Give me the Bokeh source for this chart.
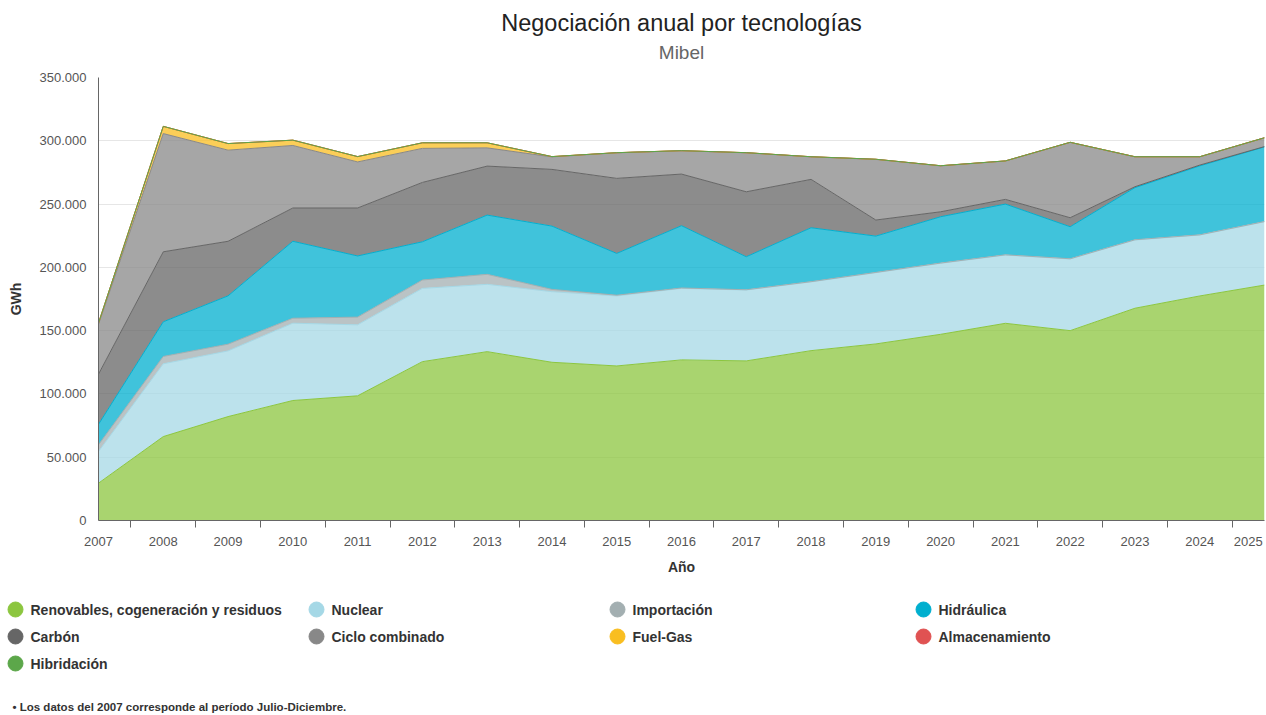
from bokeh.plotting import figure
from bokeh.models import ColumnDataSource, Range1d, FixedTicker
from bokeh.layouts import column
from bokeh.embed import file_html
from bokeh.resources import INLINE
from bokeh.core.properties import value

FONT = "Liberation Sans"

# ---------------- data (GWh) ----------------
years = [2007, 2008, 2009, 2010, 2011, 2012, 2013, 2014, 2015, 2016,
         2017, 2018, 2019, 2020, 2021, 2022, 2023, 2024, 2025]
renovables = [29500, 66300, 82100, 94800, 98500, 125500, 133400, 125000, 122100, 126900,
              126100, 134200, 139500, 147100, 155800, 150000, 167700, 177400, 186000]
nuclear = [25000, 57500, 51900, 61100, 56100, 57900, 53200, 55800, 55300, 56500,
           56000, 54300, 56300, 56100, 53900, 56600, 53900, 48100, 50000]
importacion = [5300, 5800, 5300, 3900, 6100, 6600, 7900, 1800, 600, 300,
               200, 200, 200, 200, 200, 200, 200, 200, 200]
hidraulica = [16200, 27400, 38200, 60800, 48300, 30200, 46800, 50000, 33000, 49200,
              26100, 42600, 28700, 36600, 40100, 25300, 41200, 54500, 59000]
carbon = [39600, 55300, 43100, 26300, 37900, 46900, 38700, 44800, 59300, 40800,
          51300, 38200, 12700, 3900, 3700, 7100, 700, 600, 200]
ciclo_combinado = [39400, 93400, 72000, 49400, 36400, 26900, 14400, 9900, 20200, 18400,
                   30800, 17800, 47900, 36300, 30300, 59500, 23600, 6500, 6900]
fuel_gas = [1000, 5700, 5200, 4200, 4200, 4400, 4000, 200, 100, 100,
            100, 100, 100, 100, 100, 100, 100, 100, 100]
almacenamiento = [0, 0, 0, 0, 0, 0, 0, 0, 0, 0, 0, 0, 0, 0, 0, 0, 0, 0, 0]
hibridacion = [0, 0, 0, 0, 0, 0, 0, 0, 0, 0, 0, 0, 0, 0, 0, 0, 0, 0, 0]

series_names = ["Renovables, cogeneración y residuos", "Nuclear", "Importación", "Hidráulica",
                "Carbón", "Ciclo combinado", "Fuel-Gas", "Almacenamiento", "Hibridación"]
series_keys = ["ren", "nuc", "imp", "hid", "car", "cc", "fg", "alm", "hib"]
series_colors = ["#8CC63F", "#A5D8E6", "#A3AFB1", "#00AFCF", "#666666",
                 "#888888", "#F9BE20", "#E05252", "#5CA74A"]

y_ticks = [0, 50000, 100000, 150000, 200000, 250000, 300000, 350000]
y_tick_labels = ["0", "50.000", "100.000", "150.000", "200.000", "250.000", "300.000", "350.000"]

title_text = "Negociación anual por tecnologías"
subtitle_text = "Mibel"
x_title = "Año"
y_title = "GWh"
footnote = "• Los datos del 2007 corresponde al período Julio-Diciembre."

W = 1266


def bare_fig(h):
    f = figure(width=W, height=h, x_range=Range1d(0, W), y_range=Range1d(h, 0),
               output_backend="svg", toolbar_location=None, min_border=0)
    f.axis.visible = False
    f.grid.visible = False
    f.outline_line_color = None
    try:
        f.frame_align = False
    except Exception:
        pass
    return f


# ---------------- header ----------------
header = bare_fig(66)
header.text(x=[681], y=[22], text=[title_text], text_font=value(FONT), text_font_size="23.5px",
            text_color="#222222", text_align="center", text_baseline="middle")
header.text(x=[681], y=[52], text=[subtitle_text], text_font=value(FONT), text_font_size="19px",
            text_color="#666666", text_align="center", text_baseline="middle")

# ---------------- main chart ----------------
data = dict(x=years)
for k, v in zip(series_keys, [renovables, nuclear, importacion, hidraulica, carbon,
                              ciclo_combinado, fuel_gas, almacenamiento, hibridacion]):
    data[k] = v
src = ColumnDataSource(data)

p = figure(width=W, height=524, output_backend="svg", toolbar_location=None,
           x_range=Range1d(years[0], years[-1]), y_range=Range1d(0, 350000),
           min_border_left=98, min_border_right=2, min_border_top=11, min_border_bottom=70,
           title=None)
try:
    p.frame_align = False
except Exception:
    pass
p.outline_line_color = None
p.background_fill_color = "white"

p.varea_stack(stackers=series_keys, x="x", color=series_colors, fill_alpha=0.75, source=src)
p.vline_stack(stackers=series_keys, x="x", color=series_colors, line_width=1, source=src)

# x axis: labels on the categories (last one nudged inside like the original), ticks between
label_pos = years[:-1] + [years[-1] - 0.25]
p.xaxis.ticker = FixedTicker(ticks=label_pos, minor_ticks=[y + 0.5 for y in years[:-1]])
p.xaxis.major_label_overrides = {pos: str(yr) for pos, yr in zip(label_pos, years)}
p.xaxis.major_tick_out = 0
p.xaxis.major_tick_in = 0
p.xaxis.minor_tick_out = 7
p.xaxis.minor_tick_in = 0
p.xaxis.minor_tick_line_color = "#666666"
p.xaxis.axis_line_color = "#666666"
p.xaxis.major_label_standoff = 9
p.xaxis.major_label_text_font = FONT
p.xaxis.major_label_text_font_size = "13px"
p.xaxis.major_label_text_color = "#555555"
p.xaxis.axis_label = x_title
p.xaxis.axis_label_text_font = FONT
p.xaxis.axis_label_text_font_size = "14px"
p.xaxis.axis_label_text_font_style = "bold"
p.xaxis.axis_label_text_color = "#333333"
p.xaxis.axis_label_standoff = 10
p.xgrid.visible = False

# y axis
p.yaxis.ticker = FixedTicker(ticks=y_ticks)
p.yaxis.major_label_overrides = dict(zip(y_ticks, y_tick_labels))
p.yaxis.major_tick_out = 0
p.yaxis.major_tick_in = 0
p.yaxis.minor_tick_out = 0
p.yaxis.minor_tick_in = 0
p.yaxis.axis_line_color = "#666666"
p.yaxis.major_label_standoff = 12
p.yaxis.major_label_text_font = FONT
p.yaxis.major_label_text_font_size = "13px"
p.yaxis.major_label_text_color = "#555555"
p.yaxis.axis_label = y_title
p.yaxis.axis_label_text_font = FONT
p.yaxis.axis_label_text_font_size = "14px"
p.yaxis.axis_label_text_font_style = "bold"
p.yaxis.axis_label_text_color = "#333333"
p.yaxis.axis_label_standoff = 13
p.ygrid.ticker = FixedTicker(ticks=y_ticks)
p.ygrid.grid_line_color = "#e6e6e6"

# ---------------- legend + footnote ----------------
leg = bare_fig(125)
col_x = [30, 331, 632, 938]
row_y = [19, 46, 73]
lx, ly = [], []
for i in range(len(series_names)):
    lx.append(col_x[i % 4])
    ly.append(row_y[i // 4])
leg.scatter(x=[v - 15 for v in lx], y=ly, size=15, marker="circle", color=series_colors)
leg.text(x=lx, y=ly, text=series_names, text_font=value(FONT), text_font_size="14px",
         text_font_style="bold", text_color="#333333", text_align="left", text_baseline="middle")
leg.text(x=[12], y=[116], text=[footnote], text_font=value(FONT), text_font_size="11.5px",
         text_font_style="bold", text_color="#333333", text_align="left", text_baseline="middle")

layout = column(header, p, leg, spacing=0)
open("out.html", "w").write(file_html(layout, INLINE))
